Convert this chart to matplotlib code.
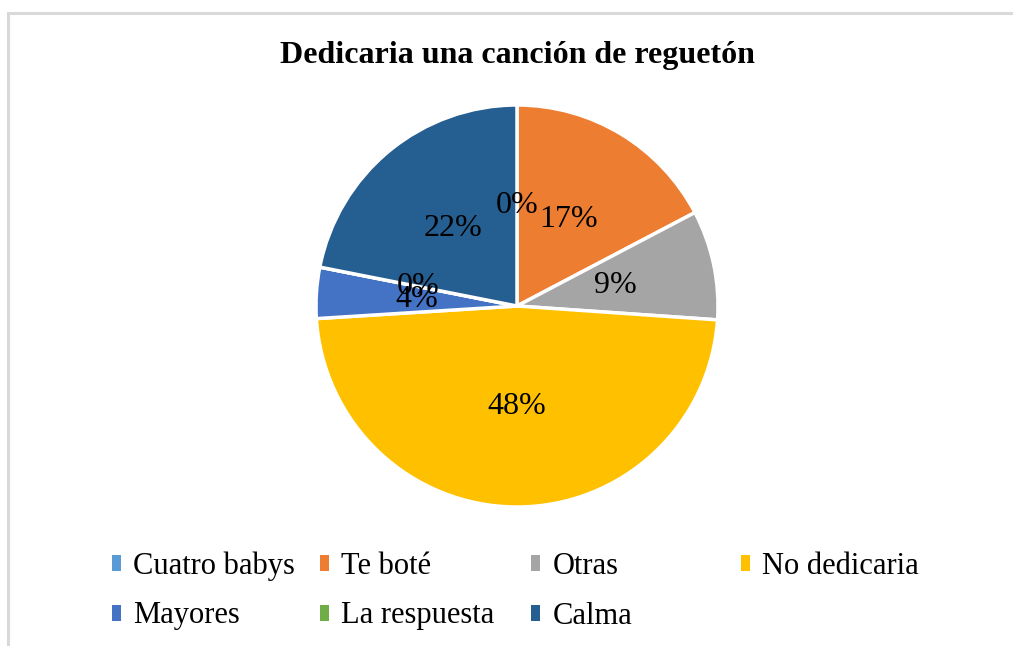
import matplotlib
matplotlib.use("Agg")
import matplotlib.pyplot as plt
from matplotlib.patches import Rectangle, Patch

categories = ["Cuatro babys", "Te boté", "Otras", "No dedicaria", "Mayores", "La respuesta", "Calma"]
values = [0, 17.3, 8.8, 47.9, 4.1, 0, 21.9]
colors = ["#5B9BD5", "#ED7D31", "#A5A5A5", "#FFC000", "#4472C4", "#70AD47", "#255E91"]
title = "Dedicaria una canción de reguetón"

W, H = 1013, 646
fig = plt.figure(figsize=(W / 100, H / 100), dpi=100)
plt.rcParams['font.family'] = ['Liberation Serif', 'DejaVu Serif']

# chart border (top and left visible)
fig.patches.append(Rectangle((8 / W, -0.1), 1.2, (H - 13) / H + 0.1,
                             transform=fig.transFigure, fill=False,
                             edgecolor="#D9D9D9", linewidth=2.2))

cx, cy, r = 517, 306, 201
ax = fig.add_axes([(cx - r) / W, (H - cy - r) / H, 2 * r / W, 2 * r / H])
res = ax.pie(values, colors=colors, startangle=90, counterclock=False,
             autopct='%1.0f%%', pctdistance=0.5,
             wedgeprops=dict(edgecolor="white", linewidth=2.5),
             textprops=dict(fontsize=23, color="black"))
ax.set_xlim(-1, 1)
ax.set_ylim(-1, 1)
ax.set_aspect('equal')
ax.axis('off')

fig.text(517 / W, 1 - 55 / H, title, ha='center', va='center',
         fontsize=23, fontweight='bold')

# legend entries placed on a grid
col_x = [112, 320, 531, 741]
row_y = [566, 616]
for i, (cat, col) in enumerate(zip(categories, colors)):
    row, c = divmod(i, 4)
    fig.legend(handles=[Patch(facecolor=col, edgecolor='none')], labels=[cat],
               loc='center left', bbox_to_anchor=(col_x[c] / W, 1 - row_y[row] / H),
               frameon=False, fontsize=22, handlelength=0.28, handleheight=0.42,
               handletextpad=0.42, borderpad=0, borderaxespad=0)

fig.savefig("out.png", dpi=100)
